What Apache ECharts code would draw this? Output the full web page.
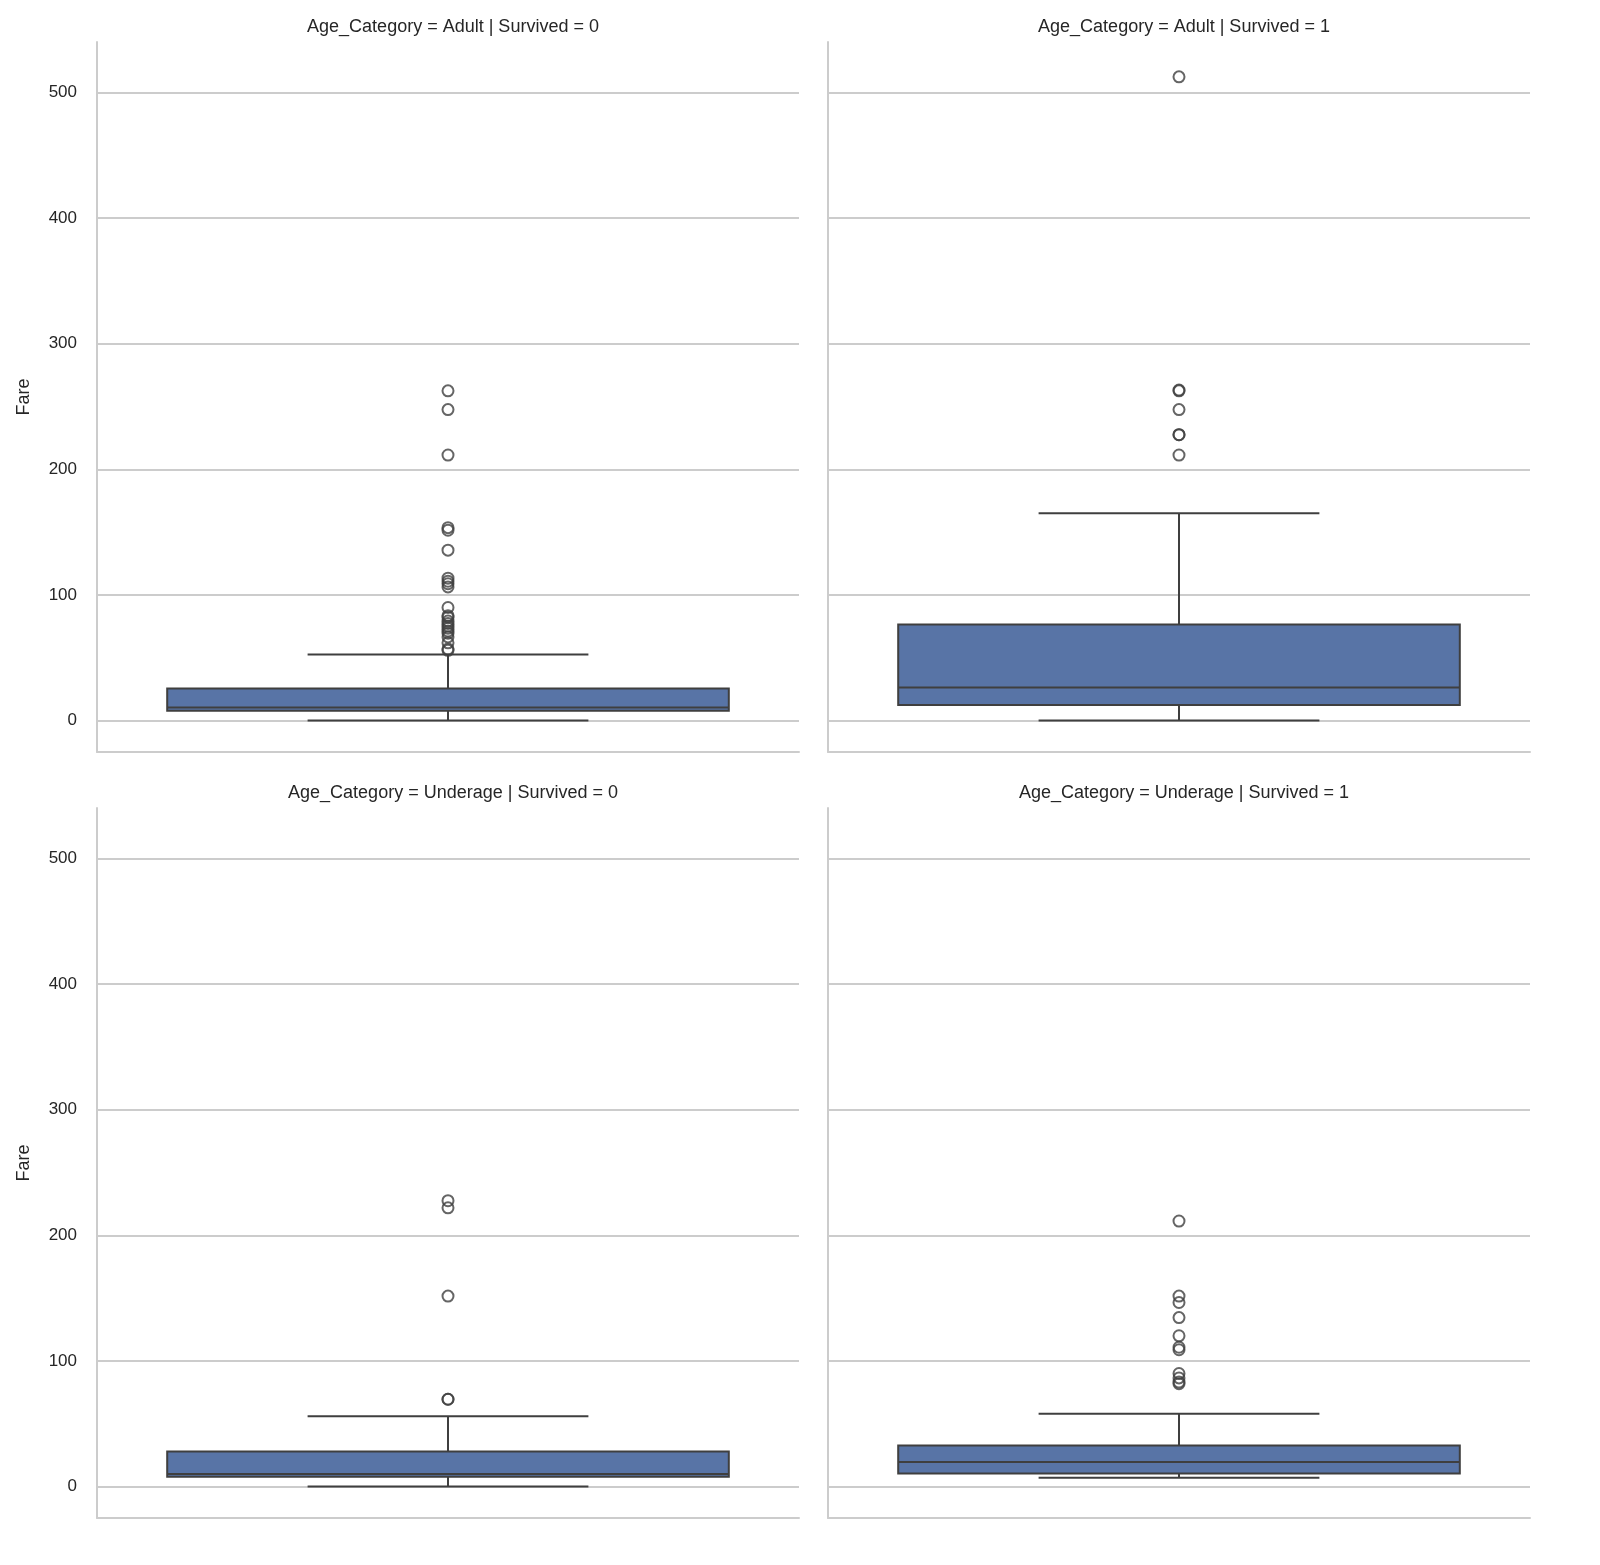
<!DOCTYPE html>
<html><head><meta charset="utf-8">
<script src="https://cdn.jsdelivr.net/npm/echarts@6/dist/echarts.min.js"></script>
<style>body{margin:0}#c{width:1600px;height:1565px}</style></head>
<body><div id="c"></div>
<script>
// panel titles
var titles = ['Age_Category = Adult | Survived = 0', 'Age_Category = Adult | Survived = 1',
              'Age_Category = Underage | Survived = 0', 'Age_Category = Underage | Survived = 1'];
// box stats: [low whisker, q1, median, q3, high whisker]
var boxStats = [
    [0, 7.9, 10.5, 25.5, 52.5],
    [0, 12.5, 26.3, 76.5, 164.9],
    [0, 7.9, 10, 27.9, 55.9],
    [7, 10.5, 19.5, 32.6, 57.9]
];
var outliers = [
    [262.4, 247.5, 211.3, 153.5, 151.5, 135.6, 113.3, 110.9, 108.9, 106.4, 90, 83.5, 82.2, 79.2, 77.3, 75.2, 73.5, 71.3, 69.5, 66.6, 61.9, 57, 55.9],
    [512.3, 263, 262.4, 247.5, 227.5, 227.5, 211.3],
    [227.5, 221.8, 151.6, 69.5, 69.5],
    [211.3, 151.6, 146.5, 134.5, 120, 110.9, 108.9, 90, 86.5, 83.2, 81.9]
];
var gridTicks = [0, 100, 200, 300, 400, 500];

var FONT = 'Liberation Sans';
var lefts = [97, 828, 97, 828], tops = [42, 42, 808, 808];
var W = 702, H = 710;
var grid = [], xAxis = [], yAxis = [], title = [], series = [];
for (var i = 0; i < 4; i++) {
    grid.push({left: lefts[i], top: tops[i], width: W, height: H});
    title.push({text: titles[i], left: lefts[i] + W / 2, top: tops[i] - 29, textAlign: 'center',
        textStyle: {fontSize: 18, fontWeight: 'normal', color: '#262626', fontFamily: FONT}});
    xAxis.push({type: 'category', gridIndex: i, data: [''], axisTick: {show: false}, axisLabel: {show: false},
        axisLine: {onZero: false, lineStyle: {color: '#cccccc', width: 2}}, splitLine: {show: false}});
    yAxis.push({type: 'value', gridIndex: i, min: -25, max: 540,
        name: (i % 2 === 0) ? 'Fare' : '', nameLocation: 'middle', nameGap: 64, nameRotate: 90,
        nameTextStyle: {fontSize: 18, color: '#262626', fontFamily: FONT},
        axisLine: {show: true, lineStyle: {color: '#cccccc', width: 2}}, axisTick: {show: false},
        splitLine: {show: false},
        axisLabel: {show: i % 2 === 0, fontSize: 17, color: '#262626', margin: 20, fontFamily: FONT,
            formatter: function (v) { return (v % 100 === 0 && v >= 0 && v <= 500) ? String(v) : ''; }}});
    series.push({
        type: 'custom', xAxisIndex: i, yAxisIndex: i, z: 3,
        data: [[0].concat(boxStats[i])],
        renderItem: function (params, api) {
            var bw = api.size([1, 0])[0] * 0.4;
            var cx = api.coord([0, 0])[0];
            var y = function (k) { return api.coord([0, api.value(k)])[1]; };
            var lo = y(1), q1 = y(2), md = y(3), q3 = y(4), hi = y(5);
            var ls = {stroke: '#3f3f3f', lineWidth: 2, fill: null};
            return {type: 'group', children: [
                {type: 'line', shape: {x1: cx, y1: lo, x2: cx, y2: q1}, style: ls},
                {type: 'line', shape: {x1: cx, y1: q3, x2: cx, y2: hi}, style: ls},
                {type: 'line', shape: {x1: cx - bw / 2, y1: lo, x2: cx + bw / 2, y2: lo}, style: ls},
                {type: 'line', shape: {x1: cx - bw / 2, y1: hi, x2: cx + bw / 2, y2: hi}, style: ls},
                {type: 'rect', shape: {x: cx - bw, y: q3, width: 2 * bw, height: q1 - q3},
                    style: {fill: '#5874a6', stroke: '#3f3f3f', lineWidth: 2}},
                {type: 'line', shape: {x1: cx - bw, y1: md, x2: cx + bw, y2: md}, style: ls}
            ]};
        }
    });
    series.push({
        type: 'scatter', xAxisIndex: i, yAxisIndex: i, z: 3, symbol: 'circle', symbolSize: 11,
        itemStyle: {color: 'rgba(0,0,0,0)', borderColor: '#3f3f3f', borderWidth: 2},
        data: outliers[i].map(function (v) { return [0, v]; }),
        markLine: {silent: true, symbol: 'none', label: {show: false}, z: 1,
            lineStyle: {color: '#cccccc', width: 2, type: 'solid'},
            data: gridTicks.map(function (t) { return {yAxis: t}; })}
    });
}
var chart = echarts.init(document.getElementById('c'));
chart.setOption({backgroundColor: '#ffffff', animation: false, title: title,
    grid: grid, xAxis: xAxis, yAxis: yAxis, series: series});
</script></body></html>
